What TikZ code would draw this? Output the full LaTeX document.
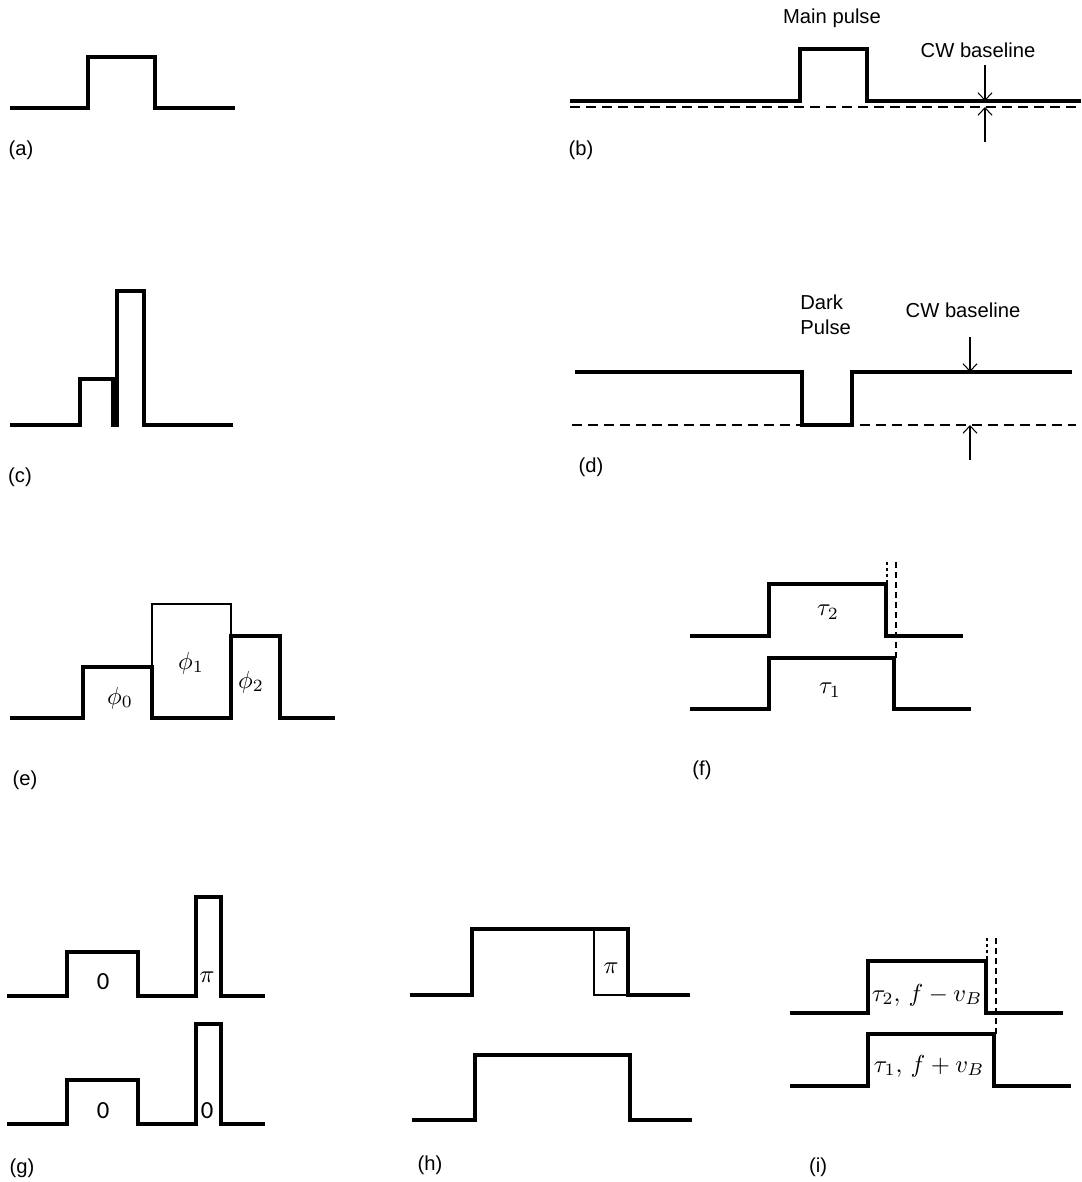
\documentclass[tikz,border=0pt]{standalone}
\usepackage[no-math]{fontspec}
\setmainfont{Liberation Sans}
\newfontfamily\digitfont{Carlito}
\usetikzlibrary{arrows.meta}

\tikzset{
  wave/.style={line width=2.2pt, line join=miter},
  edge/.style={line width=0.6pt},
  cwdash/.style={line width=0.6pt, dash pattern=on 0.2cm off 0.12cm},
  gapdash/.style={line width=0.6pt, dash pattern=on 0.12cm off 0.08cm},
  gapdot/.style={line width=0.6pt, dash pattern=on 0.06cm off 0.06cm},
  gauge/.style={line width=0.6pt, -{Straight Barb[length=1.5mm,width=2.8mm]}},
  lbl/.style={font=\fontsize{11.5}{14}\selectfont, inner sep=0pt},
  sym/.style={inner sep=0pt, scale=1.4},
  zero/.style={font=\fontsize{14}{16}\digitfont, inner sep=0pt},
}

\begin{document}
\begin{tikzpicture}[x=0.02cm, y=-0.02cm]
    \useasboundingbox (0,0) rectangle (1081,1182);

    % (a) single square pulse
    \draw [wave] (10,108) -- (88,108) -- (88,57) -- (155,57) -- (155,108) -- (235,108);
    \node [lbl] (la) at (21,150) {(a)};

    % (b) pulse on top of a CW baseline
    \draw [cwdash] (570,107) -- (1081,107);
    \draw [wave] (570,101) -- (800,101) -- (800,49) -- (867,49) -- (867,101) -- (1081,101);
    \node [lbl] (mainp) at (832,18) {Main pulse};
    \node [lbl] (cwb) at (978,50) {CW baseline};
    \coordinate (b1) at (985,65);
    \coordinate (b2) at (985,101);
    \coordinate (b3) at (985,142);
    \coordinate (b4) at (985,107);
    \draw [gauge] (b1) -- (b2);
    \draw [gauge] (b3) -- (b4);
    \node [lbl] (lb) at (581,150) {(b)};

    % (c) pedestal followed by a tall narrow pulse
    \fill (111,379) rectangle (118,425);
    \draw [wave] (10,425) -- (80,425) -- (80,379) -- (113,379) -- (113,425)
        -- (117,425) -- (117,291) -- (144,291) -- (144,425) -- (233,425);
    \node [lbl] (lc) at (20,477) {(c)};

    % (d) dark pulse
    \draw [cwdash] (572,425) -- (1076,425);
    \draw [wave] (575,372) -- (802,372) -- (802,425) -- (852,425) -- (852,372) -- (1072,372);
    \node [lbl, align=left, anchor=west] (darkp) at (800,315) {Dark\\Pulse};
    \node [lbl] (cwd) at (963,310) {CW baseline};
    \coordinate (d1) at (970,337);
    \coordinate (d2) at (970,372);
    \coordinate (d3) at (970,460);
    \coordinate (d4) at (970,425);
    \draw [gauge] (d1) -- (d2);
    \draw [gauge] (d3) -- (d4);
    \node [lbl] (ld) at (591,467) {(d)};

    % (e) three phase segments
    \draw [edge] (152,718) rectangle (231,604);
    \draw [wave] (10,718) -- (83,718) -- (83,667) -- (152,667) -- (152,718)
        -- (231,718) -- (231,636) -- (280,636) -- (280,718) -- (335,718);
    \node [sym] (p0) at (120,698) {$\phi_0$};
    \node [sym] (p1) at (191,663) {$\phi_1$};
    \node [sym] (p2) at (251,682) {$\phi_2$};
    \node [lbl] (le) at (25,780) {(e)};

    % (f) two pulses of different length
    \draw [wave] (690,636) -- (769,636) -- (769,584) -- (886,584) -- (886,636) -- (963,636);
    \draw [wave] (690,709) -- (769,709) -- (769,658) -- (894,658) -- (894,709) -- (971,709);
    \draw [gapdot] (887,562) -- (887,584);
    \draw [gapdash] (896,562) -- (896,658);
    \node [sym] (t2) at (828,612) {$\tau_2$};
    \node [sym] (t1) at (830,690) {$\tau_1$};
    \node [lbl] (lf) at (702,770) {(f)};

    % (g) pulse pairs with phase marks
    \draw [wave] (7,996) -- (67,996) -- (67,952) -- (138,952) -- (138,996)
        -- (196,996) -- (196,897) -- (221,897) -- (221,996) -- (265,996);
    \draw [wave] (7,1124) -- (67,1124) -- (67,1080) -- (138,1080) -- (138,1124)
        -- (196,1124) -- (196,1024) -- (221,1024) -- (221,1124) -- (265,1124);
    \node [zero] (g1) at (103,982) {0};
    \node [sym] (g2) at (207,977) {$\pi$};
    \node [zero] (g3) at (103,1111) {0};
    \node [zero] (g4) at (207,1111) {0};
    \node [lbl] (lg) at (22,1168) {(g)};

    % (h) long pulse with a pi segment at its tail
    \draw [edge] (594,929) rectangle (628,995);
    \draw [wave] (410,995) -- (472,995) -- (472,929) -- (628,929) -- (628,995) -- (690,995);
    \draw [wave] (412,1120) -- (475,1120) -- (475,1055) -- (630,1055) -- (630,1120) -- (692,1120);
    \node [sym] (h1) at (611,968) {$\pi$};
    \node [lbl] (lh) at (430,1165) {(h)};

    % (i) frequency shifted pulse pair
    \draw [wave] (790,1013) -- (868,1013) -- (868,961) -- (986,961) -- (986,1013) -- (1063,1013);
    \draw [wave] (790,1086) -- (868,1086) -- (868,1034) -- (994,1034) -- (994,1086) -- (1071,1086);
    \draw [gapdot] (987,938) -- (987,961);
    \draw [gapdash] (996,938) -- (996,1034);
    \node [sym] (i2) at (927,995) {$\tau_2,\, f - v_B$};
    \node [sym] (i1) at (929,1066) {$\tau_1,\, f + v_B$};
    \node [lbl] (li) at (818,1167) {(i)};
\end{tikzpicture}
\end{document}
